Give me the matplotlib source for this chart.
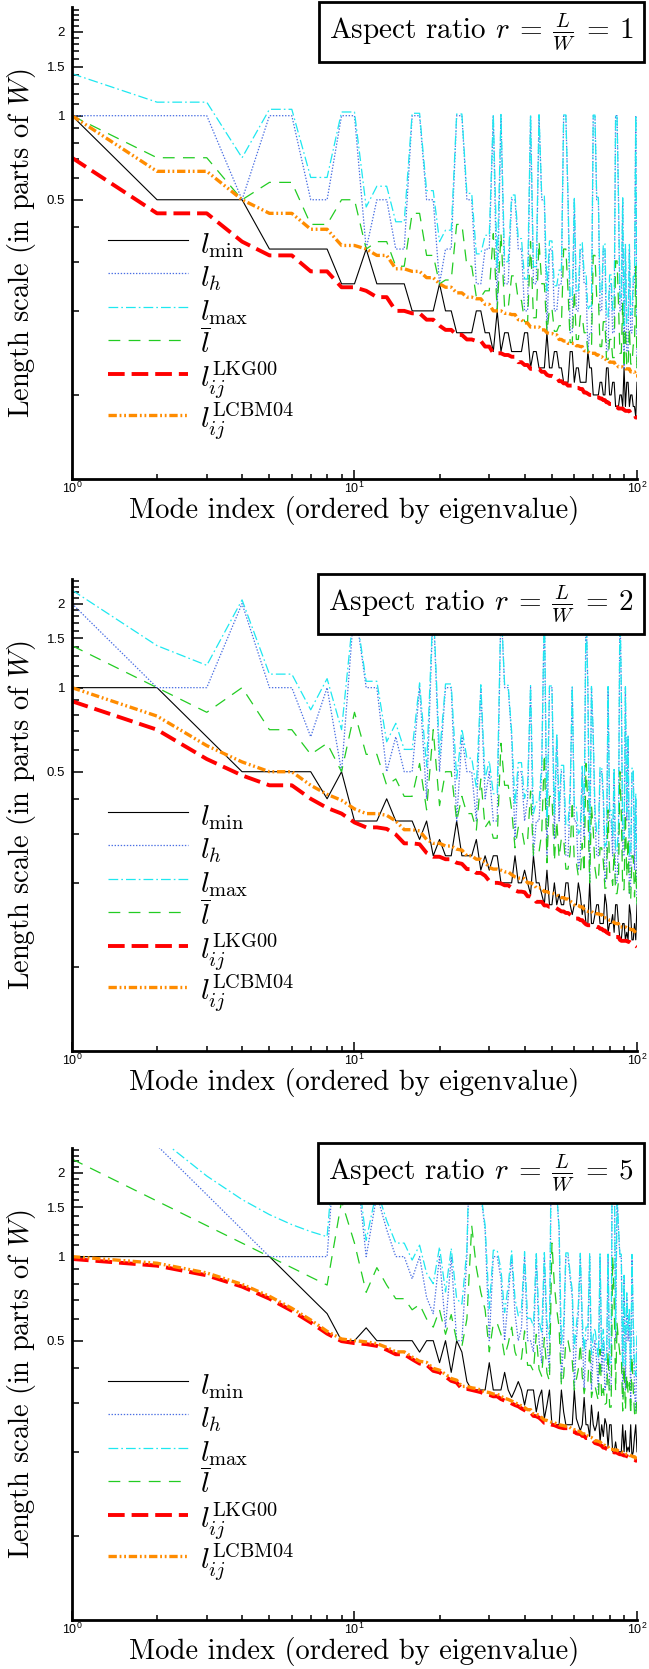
import matplotlib
matplotlib.use("Agg")
import matplotlib.pyplot as plt
from matplotlib.ticker import NullFormatter

plt.rcParams['font.family'] = 'serif'
plt.rcParams['font.serif'] = ['cmr10']
plt.rcParams['mathtext.fontset'] = 'cm'
plt.rcParams['axes.unicode_minus'] = False
plt.rcParams['lines.scale_dashes'] = False

# mode index 1..100, ordered by eigenvalue
mode_index = list(range(1, 101))

# ---- aspect ratio r = 1 ----
r1_lmin = [1, .5, .5, .5, .333, .333, .333, .333, .25, .25,
           .333, .25, .25, .25, .25, .2, .2, .2, .2, .25,
           .2, .2, .167, .167, .167, .167, .2, .2, .167, .167,
           .143, .2, .143, .167, .167, .143, .143, .143, .143, .167,
           .167, .125, .143, .143, .125, .125, .125, .167, .125, .125,
           .143, .143, .125, .125, .111, .111, .111, .143, .143, .111,
           .125, .125, .111, .111, .111, .111, .143, .125, .125, .1,
           .1, .1, .1, .111, .111, .1, .1, .125, .125, .1,
           .1, .111, .111, .0909, .0909, .0909, .1, .1, .0909, .125,
           .0909, .111, .111, .0909, .1, .1, .0909, .0909, .0833, .111]
r1_lh = [1, 1, 1, .5, 1, 1, .5, .5, 1, 1,
         .333, .5, .5, .333, .333, 1, 1, .5, .5, .25,
         .333, .333, 1, 1, .5, .5, .25, .25, .333, .333,
         1, .2, 1, .25, .25, .5, .5, .333, .333, .2,
         .2, 1, .25, .25, 1, .5, .5, .167, .333, .333,
         .2, .2, .25, .25, 1, 1, .5, .167, .167, .5,
         .2, .2, .333, .333, .25, .25, .143, .167, .167, 1,
         1, .5, .5, .2, .2, .333, .333, .143, .143, .25,
         .25, .167, .167, 1, 1, .5, .2, .2, .5, .125,
         .333, .143, .143, .333, .167, .167, .25, .25, 1, .125]
r1_lmax = [1.414, 1.118, 1.118, .707, 1.054, 1.054, .601, .601, 1.031, 1.031,
           .471, .559, .559, .417, .417, 1.02, 1.02, .539, .539, .354,
           .389, .389, 1.014, 1.014, .527, .527, .32, .32, .373, .373,
           1.01, .283, 1.01, .3, .3, .52, .52, .363, .363, .26,
           .26, 1.008, .288, .288, 1.008, .515, .515, .236, .356, .356,
           .246, .246, .28, .28, 1.006, 1.006, .512, .22, .22, .512,
           .236, .236, .351, .351, .274, .274, .202, .208, .208, 1.005,
           1.005, .51, .51, .229, .229, .348, .348, .19, .19, .269,
           .269, .2, .2, 1.004, 1.004, .508, .224, .224, .508, .177,
           .346, .181, .181, .346, .194, .194, .266, .266, 1.003, .167]
r1_lbar = [1, .707, .707, .5, .577, .577, .408, .408, .5, .5,
           .333, .354, .354, .289, .289, .447, .447, .316, .316, .25,
           .258, .258, .408, .408, .289, .289, .224, .224, .236, .236,
           .378, .2, .378, .204, .204, .267, .267, .218, .218, .183,
           .183, .354, .189, .189, .354, .25, .25, .167, .204, .204,
           .169, .169, .177, .177, .333, .333, .236, .154, .154, .236,
           .158, .158, .192, .192, .167, .167, .143, .144, .144, .316,
           .316, .224, .224, .149, .149, .183, .183, .134, .134, .158,
           .158, .136, .136, .302, .302, .213, .141, .141, .213, .125,
           .174, .126, .126, .174, .129, .129, .151, .151, .289, .118]
r1_lkg = [.707, .447, .447, .354, .316, .316, .277, .277, .243, .243,
          .236, .224, .224, .2, .2, .196, .196, .186, .186, .177,
          .171, .171, .164, .164, .158, .158, .156, .156, .149, .149,
          .141, .141, .141, .139, .139, .137, .137, .131, .131, .128,
          .128, .124, .124, .124, .124, .121, .121, .118, .117, .117,
          .116, .116, .112, .112, .110, .110, .108, .108, .108, .108,
          .106, .106, .105, .105, .102, .102, .101, .1, .1, .0995,
          .0995, .0981, .0981, .0971, .0971, .0958, .0958, .0941, .0941, .0928,
          .0928, .0925, .0925, .0905, .0905, .0894, .0894, .0894, .0894, .0884,
          .0877, .0877, .0877, .0877, .0857, .0857, .0854, .0854, .083, .083]
r1_lcbm = [1, .632, .632, .5, .447, .447, .392, .392, .343, .343,
           .333, .316, .316, .283, .283, .277, .277, .263, .263, .25,
           .243, .243, .232, .232, .224, .224, .221, .221, .211, .211,
           .2, .2, .2, .196, .196, .194, .194, .186, .186, .181,
           .181, .175, .175, .175, .175, .171, .171, .167, .166, .166,
           .164, .164, .158, .158, .156, .156, .153, .153, .153, .153,
           .150, .150, .149, .149, .144, .144, .143, .141, .141, .141,
           .141, .139, .139, .137, .137, .135, .135, .133, .133, .131,
           .131, .131, .131, .128, .128, .126, .126, .126, .126, .125,
           .124, .124, .124, .124, .121, .121, .121, .121, .117, .117]

# ---- aspect ratio r = 2 ----
r2_lmin = [1, 1, .667, .5, .5, .5, .5, .4, .5, .333,
           .333, .333, .4, .333, .333, .333, .286, .333, .25, .286,
           .25, .25, .333, .25, .25, .25, .286, .222, .25, .222,
           .25, .25, .2, .2, .2, .2, .25, .2, .2, .222,
           .2, .182, .25, .2, .2, .182, .167, .222, .167, .167,
           .2, .167, .182, .167, .167, .2, .2, .167, .154, .167,
           .167, .2, .182, .154, .167, .143, .143, .2, .143, .143,
           .154, .167, .167, .143, .143, .143, .182, .167, .133, .143,
           .143, .154, .133, .167, .167, .143, .125, .125, .143, .143,
           .125, .133, .125, .167, .154, .125, .125, .143, .125, .167]
r2_lh = [2, 1, 1, 2, 1, 1, .667, 1, .5, 2,
         1, 1, .5, .667, .5, .5, 1, .4, 2, .5,
         1, 1, .333, .667, .5, .5, .333, 1, .4, .5,
         .333, .333, 2, 1, 1, .667, .286, .5, .5, .333,
         .4, 1, .25, .333, .333, .5, 2, .25, 1, 1,
         .286, .667, .333, .5, .5, .25, .25, .4, 1, .333,
         .333, .222, .25, .5, .286, 2, 1, .2, 1, .667,
         .333, .25, .25, .5, .5, .4, .2, .222, 1, .333,
         .333, .25, .5, .2, .2, .286, 2, 1, .25, .25,
         1, .333, .667, .182, .2, .5, .5, .222, .4, .167]
r2_lmax = [2.236, 1.414, 1.202, 2.062, 1.118, 1.118, .833, 1.077, .707, 2.028,
           1.054, 1.054, .64, .745, .601, .601, 1.04, .521, 2.016, .576,
           1.031, 1.031, .471, .712, .559, .559, .439, 1.024, .472, .547,
           .417, .417, 2.01, 1.02, 1.02, .696, .38, .539, .539, .401,
           .447, 1.016, .354, .389, .389, .532, 2.007, .334, 1.014, 1.014,
           .349, .687, .38, .527, .527, .32, .32, .433, 1.012, .373,
           .373, .299, .309, .523, .331, 2.005, 1.01, .283, 1.01, .682,
           .367, .3, .3, .52, .52, .425, .27, .278, 1.009, .363,
           .363, .294, .517, .26, .26, .319, 2.004, 1.008, .288, .288,
           1.008, .359, .678, .247, .252, .515, .515, .264, .419, .236]
r2_lbar = [1.414, 1, .816, 1, .707, .707, .577, .632, .5, .816,
           .577, .577, .447, .471, .408, .408, .535, .365, .707, .378,
           .5, .5, .333, .408, .354, .354, .309, .471, .316, .333,
           .289, .289, .632, .447, .447, .365, .267, .316, .316, .272,
           .283, .426, .25, .258, .258, .302, .577, .236, .408, .408,
           .239, .333, .246, .289, .289, .224, .224, .258, .392, .236,
           .236, .211, .213, .277, .218, .535, .378, .2, .378, .309,
           .226, .204, .204, .267, .267, .239, .191, .192, .365, .218,
           .218, .196, .258, .183, .183, .202, .5, .354, .189, .189,
           .354, .211, .289, .174, .175, .25, .25, .178, .224, .167]
r2_lkg = [.894, .707, .555, .485, .447, .447, .4, .371, .354, .329,
          .316, .316, .312, .298, .277, .277, .275, .256, .248, .248,
          .243, .243, .236, .234, .224, .224, .217, .217, .212, .203,
          .2, .2, .199, .196, .196, .192, .188, .186, .186, .185,
          .179, .179, .177, .171, .171, .171, .166, .166, .164, .164,
          .164, .162, .16, .158, .158, .156, .156, .154, .152, .149,
          .149, .149, .147, .147, .144, .142, .141, .141, .141, .14,
          .14, .139, .139, .137, .137, .135, .135, .133, .132, .131,
          .131, .131, .129, .128, .128, .128, .125, .124, .124, .124,
          .124, .124, .123, .123, .122, .121, .121, .12, .119, .118]
r2_lcbm = [1, .791, .62, .542, .5, .5, .447, .415, .395, .368,
           .354, .354, .349, .333, .31, .31, .307, .286, .277, .277,
           .271, .271, .264, .262, .25, .25, .243, .243, .237, .227,
           .224, .224, .222, .219, .219, .214, .21, .208, .208, .207,
           .2, .2, .198, .192, .192, .191, .186, .186, .184, .184,
           .183, .181, .178, .177, .177, .175, .175, .172, .17, .167,
           .167, .166, .164, .164, .161, .159, .158, .158, .158, .156,
           .156, .155, .155, .154, .154, .15, .15, .149, .148, .147,
           .147, .146, .144, .143, .143, .143, .139, .139, .139, .139,
           .139, .138, .137, .137, .136, .136, .136, .134, .133, .132]

# ---- aspect ratio r = 5 ----
r5_lmin = [1, 1, 1, 1, 1, .833, .714, .625, .5, .5,
           .556, .5, .5, .5, .5, .5, .455, .5, .5, .417,
           .5, .385, .5, .455, .357, .333, .333, .333, .333, .417,
           .333, .333, .333, .385, .333, .313, .333, .357, .333, .294,
           .333, .333, .333, .278, .313, .333, .263, .294, .333, .25,
           .25, .25, .25, .333, .278, .25, .25, .25, .25, .333,
           .263, .25, .238, .25, .313, .25, .25, .227, .294, .25,
           .238, .25, .278, .217, .25, .227, .263, .25, .208, .25,
           .25, .2, .2, .217, .2, .2, .2, .2, .25, .2,
           .238, .2, .208, .2, .25, .192, .2, .227, .25, .2]
r5_lh = [5, 2.5, 1.667, 1.25, 1, 1, 1, 1, 5, 2.5,
         1, 1.667, 1.25, 1, 1, .833, 1, .714, .625, 1,
         .556, 1, .5, .5, 1, 5, 2.5, 1.667, 1.25, .5,
         1, 1, .833, .5, .714, 1, .625, .5, .556, 1,
         .5, .5, .455, 1, .5, .417, 1, .5, .385, 5,
         2.5, 1.667, 1.25, .357, .5, 1, 1, .833, .714, .333,
         .5, .625, 1, .556, .333, .5, .5, 1, .333, .455,
         .5, .417, .333, 1, .385, .5, .333, .357, 1, .333,
         .333, 5, 2.5, .5, 1.667, 1.25, 1, 1, .313, .833,
         .333, .714, .5, .625, .294, 1, .556, .333, .278, .5]
r5_lmax = [5.099, 2.693, 1.944, 1.601, 1.414, 1.302, 1.229, 1.179, 5.025, 2.55,
           1.144, 1.74, 1.346, 1.118, 1.118, .972, 1.099, .872, .8, 1.083,
           .747, 1.071, .707, .676, 1.062, 5.011, 2.522, 1.7, 1.294, .651,
           1.054, 1.054, .898, .631, .788, 1.048, .708, .614, .648, 1.042,
           .601, .601, .564, 1.038, .59, .534, 1.034, .58, .509, 5.006,
           2.512, 1.685, 1.275, .489, .572, 1.031, 1.031, .87, .757, .471,
           .565, .673, 1.028, .609, .457, .559, .559, 1.025, .445, .519,
           .554, .486, .434, 1.023, .459, .549, .425, .436, 1.021, .417,
           .417, 5.004, 2.508, .545, 1.679, 1.266, 1.02, 1.02, .4, .857,
           .41, .742, .542, .656, .386, 1.018, .59, .403, .374, .539]
r5_lbar = [2.236, 1.581, 1.291, 1.118, 1, .913, .845, .791, 1.581, 1.118,
           .745, .913, .791, .707, .707, .645, .674, .598, .559, .645,
           .527, .62, .5, .477, .598, 1.291, .913, .745, .645, .456,
           .577, .577, .527, .439, .488, .559, .456, .423, .43, .542,
           .408, .408, .389, .527, .395, .373, .513, .383, .358, 1.118,
           .791, .645, .559, .345, .373, .5, .5, .456, .423, .333,
           .363, .395, .488, .373, .323, .354, .354, .477, .313, .337,
           .345, .323, .304, .466, .31, .337, .296, .299, .456, .289,
           .289, 1, .707, .33, .577, .5, .447, .447, .28, .408,
           .282, .378, .323, .354, .271, .439, .333, .275, .264, .316]
r5_lkg = [.981, .928, .857, .781, .707, .64, .581, .53, .498, .49,
          .486, .479, .464, .447, .447, .429, .414, .41, .39, .385,
          .372, .359, .354, .336, .336, .333, .33, .327, .322, .32,
          .316, .316, .309, .305, .302, .298, .294, .291, .286, .282,
          .277, .277, .269, .268, .265, .26, .254, .254, .252, .25,
          .249, .247, .245, .244, .243, .243, .243, .239, .236, .236,
          .233, .232, .232, .228, .228, .224, .224, .222, .221, .219,
          .215, .214, .213, .212, .21, .207, .207, .205, .204, .2,
          .2, .2, .199, .199, .199, .197, .196, .196, .195, .194,
          .194, .193, .192, .19, .19, .189, .188, .188, .186, .186]
r5_lcbm = [1, .947, .874, .796, .721, .653, .593, .54, .507, .5,
           .495, .488, .473, .456, .456, .437, .422, .418, .398, .392,
           .379, .366, .361, .343, .343, .339, .337, .333, .328, .326,
           .322, .322, .316, .311, .308, .304, .3, .296, .292, .288,
           .283, .283, .274, .273, .27, .265, .26, .259, .257, .255,
           .254, .252, .25, .249, .248, .247, .247, .244, .241, .24,
           .237, .237, .236, .232, .232, .228, .228, .226, .225, .223,
           .219, .219, .218, .217, .214, .211, .211, .209, .208, .204,
           .204, .204, .203, .203, .203, .201, .2, .2, .199, .198,
           .198, .196, .196, .194, .194, .193, .192, .192, .19, .189]

series_labels = [r'$l_{\min}$', r'$l_h$', r'$l_{\max}$', r'$\overline{l}$',
                 r'$l_{ij}^{\mathrm{LKG00}}$', r'$l_{ij}^{\mathrm{LCBM04}}$']
line_styles = [
    dict(color='black', lw=0.8, ls='-'),
    dict(color='#4a6fe3', lw=0.9, ls=(0, (1, 1.2))),
    dict(color='#1ee8f0', lw=0.9, ls=(0, (7, 2.2, 1.2, 2.2))),
    dict(color='#22cc22', lw=0.9, ls=(0, (8.5, 6))),
    dict(color='#ff0000', lw=2.8, ls=(0, (12, 5))),
    dict(color='#ff8c00', lw=2.4, ls=(0, (6, 2, 1.3, 2, 1.3, 2))),
]

panels = [
    ('1', [r1_lmin, r1_lh, r1_lmax, r1_lbar, r1_lkg, r1_lcbm], 0.7130),
    ('2', [r2_lmin, r2_lh, r2_lmax, r2_lbar, r2_lkg, r2_lcbm], 0.3703),
    ('5', [r5_lmin, r5_lh, r5_lmax, r5_lbar, r5_lkg, r5_lcbm], 0.0294),
]

y_major = [0.5, 1, 1.5, 2]
y_minor = [0.1, 0.2, 0.3, 0.4, 0.6, 0.7, 0.8, 0.9,
           1.1, 1.2, 1.3, 1.4, 1.6, 1.7, 1.8, 1.9, 2.1, 2.2, 2.3, 2.4]
x_major = [1, 10, 100]
x_minor = [2, 3, 4, 5, 6, 7, 8, 9, 20, 30, 40, 50, 60, 70, 80, 90]

fig = plt.figure(figsize=(6.49, 16.69), dpi=100)

for ratio, series, bottom in panels:
    ax = fig.add_axes([0.1109, bottom, 0.8706, 0.2828])
    for values, label, style in zip(series, series_labels, line_styles):
        ax.plot(mode_index, values, label=label, **style)

    ax.set_xscale('log')
    ax.set_yscale('log')
    ax.set_xlim(1, 100)
    ax.set_ylim(0.05, 2.45)

    ax.set_xticks(x_major)
    ax.set_xticklabels([r'$\mathregular{10^{0}}$', r'$\mathregular{10^{1}}$',
                        r'$\mathregular{10^{2}}$'],
                       fontfamily='Liberation Sans', fontsize=9)
    ax.set_xticks(x_minor, minor=True)
    ax.set_yticks(y_major)
    ax.set_yticklabels(['0.5', '1', '1.5', '2'], fontfamily='Liberation Sans', fontsize=9.5)
    ax.set_yticks(y_minor, minor=True)
    ax.xaxis.set_minor_formatter(NullFormatter())
    ax.yaxis.set_minor_formatter(NullFormatter())

    ax.tick_params(which='both', direction='in', top=False, right=False, width=1.1)
    ax.tick_params(axis='y', which='major', length=8, pad=5)
    ax.tick_params(axis='y', which='minor', length=5)
    ax.tick_params(axis='x', which='major', length=6.5, pad=1.5)
    ax.tick_params(axis='x', which='minor', length=3.5)

    for side in ['top', 'right']:
        ax.spines[side].set_visible(False)
    for side in ['left', 'bottom']:
        ax.spines[side].set_linewidth(2)

    ax.set_xlabel('Mode index (ordered by eigenvalue)', fontsize=20.6)
    ax.set_ylabel(r'Length scale (in parts of $W$)', fontsize=20.4)
    ax.xaxis.set_label_coords(0.5, -0.037)
    ax.yaxis.set_label_coords(-0.060, 0.5)

    ax.legend(loc='upper left', bbox_to_anchor=(0.0637, 0.534), frameon=False,
              fontsize=21, handlelength=2.74, handletextpad=0.4,
              handleheight=1.37, labelspacing=0, borderpad=0, borderaxespad=0)

    ax.text(0.9947, 0.947, r'Aspect ratio $r\:=\:\frac{L}{W}\:=\:' + ratio + '$',
            transform=ax.transAxes, ha='right', va='center', fontsize=21,
            bbox=dict(boxstyle='square,pad=0.33', fc='white', ec='black', lw=2))

fig.savefig('out.png', dpi=100)
